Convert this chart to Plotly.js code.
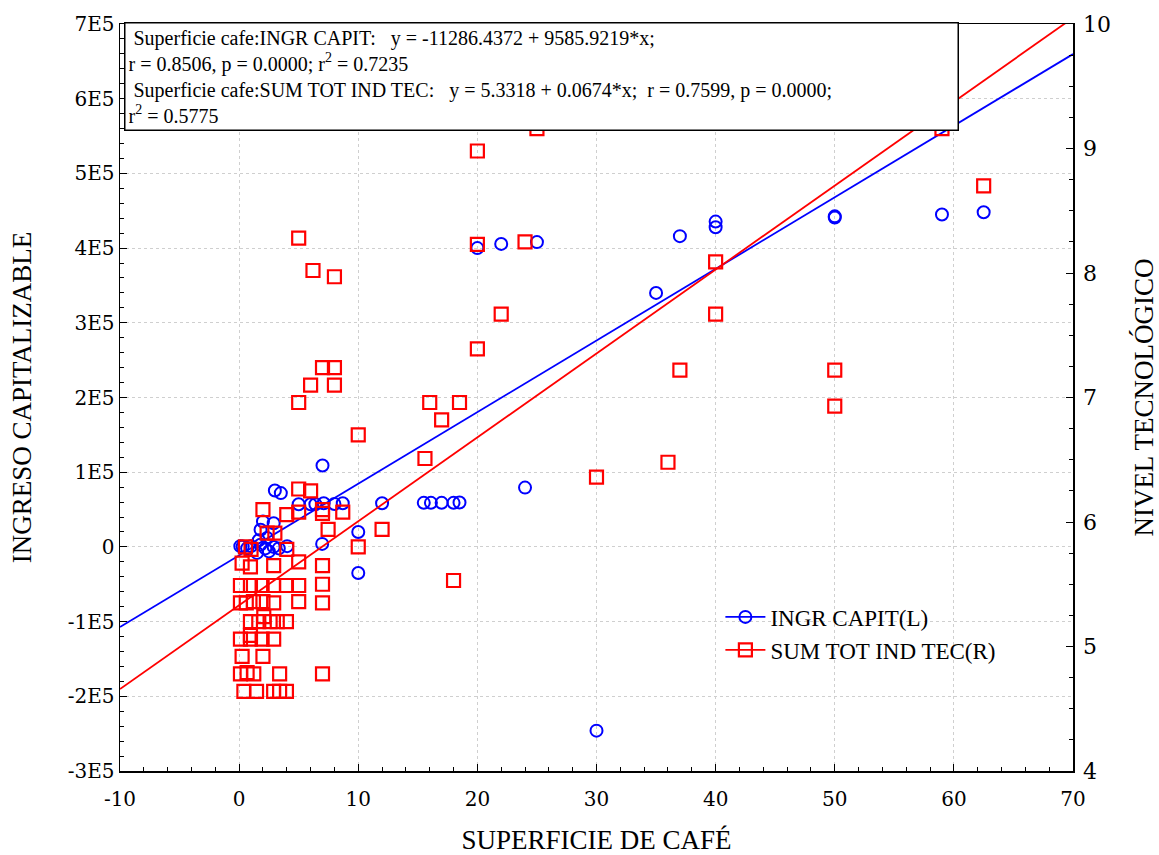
<!DOCTYPE html>
<html>
<head>
<meta charset="utf-8">
<script src="https://cdn.plot.ly/plotly-3.0.1.min.js"></script>
<style>html,body{margin:0;padding:0;background:#fff;}#chart{width:1159px;height:855px;}</style>
</head>
<body>
<div id="chart"></div>
<script>
// INGR CAPIT (left axis)
const ingrX = [7, 3.0, 3.5, 5, 6, 6.4, 7.1, 8, 8.7, 12, 15.5, 16.1, 17, 18, 18.5, 24, 20, 22, 25, 35, 37, 40, 40, 50, 50, 59, 62.5, 30, 10, 10,
  2.0, 2.9, 1.8, 2.35, 1.65, 0.1, 0.67, 1.8, 2.2, 2.5, 2.9, 3.33, 4.03, 6.97, 1.5, 1.0, 0.3];
const ingrY = [109000, 75500, 72000, 57000, 57000, 57000, 58500, 57500, 58500, 58500, 59000, 59000, 59000, 59000, 59500, 79400, 400000, 405600, 408000, 340000, 416000, 435500, 428000, 441000, 442500, 445000, 448000, -246000, 20000, -35000,
  34000, 31700, 23000, 12000, 9000, 1000, -2000, 3000, -2000, -6000, 0, -2000, 1000, 4000, -8000, 1000, 500];

// SUM TOT IND TEC (right axis)
const tecX = [5, 6.2, 8, 7, 8, 6, 8, 5, 20, 20, 22, 20, 24, 25, 40, 40, 37, 50, 50, 62.5, 36, 30, 18, 15.6, 16, 18.5, 17, 10, 12, 10, 59,
  5, 6, 2.0, 4.0, 5.0, 7, 7, 8.7, 2.35, 3.0, 7.47, 0.53, 1.0, 4.0, 0.25, 0.95, 2.9, 5.0, 7.0,
  0.11, 0.95, 1.93, 2.9, 3.97, 5.0, 7.0,
  0.11, 0.6, 1.2, 2.0, 2.9, 5.0, 7.0,
  0.95, 1.65, 2.07, 2.6, 3.2, 3.97,
  0.11, 0.95, 0.95, 1.93, 2.9,
  0.25, 2.0,
  0.11, 0.67, 1.23, 3.4, 7.0,
  0.4, 1.46, 2.9, 3.4, 3.97];
const tecY = [8.28, 8.02, 7.97, 7.24, 7.24, 7.10, 7.10, 6.96, 8.98, 8.23, 7.67, 7.39, 8.25, 9.16, 8.09, 7.67, 7.22, 7.22, 6.93, 8.70, 6.48, 6.36, 5.53, 6.51, 6.96, 6.96, 6.82, 6.70, 5.94, 5.80, 9.16,
  6.265, 6.25, 6.10, 6.06, 6.08, 6.10, 6.07, 6.08, 5.91, 5.91, 5.94, 5.80, 5.78, 5.78, 5.67, 5.64, 5.65, 5.68, 5.65,
  5.49, 5.49, 5.49, 5.49, 5.49, 5.49, 5.50,
  5.35, 5.35, 5.36, 5.36, 5.35, 5.36, 5.35,
  5.20, 5.20, 5.24, 5.20, 5.20, 5.20,
  5.06, 5.06, 5.09, 5.06, 5.06,
  4.92, 4.92,
  4.78, 4.79, 4.78, 4.78, 4.78,
  4.64, 4.64, 4.64, 4.64, 4.64];

// Regression coefficients (from the chart's annotation)
const ingrIntercept = -11286.4372, ingrSlope = 9585.9219;
const tecIntercept = 5.3318, tecSlope = 0.0674;
const fitX = [-10, 70];

const leftTickVals = [-300000, -200000, -100000, 0, 100000, 200000, 300000, 400000, 500000, 600000, 700000];
const leftTickText = ['-3E5', '-2E5', '-1E5', '0', '1E5', '2E5', '3E5', '4E5', '5E5', '6E5', '7E5'];
const xTickVals = [-10, 0, 10, 20, 30, 40, 50, 60, 70];
const xTickText = ['-10', '0', '10', '20', '30', '40', '50', '60', '70'];

const BLUE = '#0000ff', RED = '#ff0000';
const serif = 'Liberation Serif, Times New Roman, serif';
const tickFont = {family: 'DejaVu Serif, serif', size: 20, color: '#000'};
const titleFont = {family: serif, size: 27, color: '#000'};

const traces = [
  {x: ingrX, y: ingrY, type: 'scatter', mode: 'markers', yaxis: 'y', showlegend: false,
   marker: {symbol: 'circle-open', size: 12, color: BLUE, line: {width: 2, color: BLUE}}},
  {x: fitX, y: fitX.map(v => ingrIntercept + ingrSlope * v), type: 'scatter', mode: 'lines', yaxis: 'y', showlegend: false,
   line: {color: BLUE, width: 1.8}},
  {x: tecX, y: tecY, type: 'scatter', mode: 'markers', yaxis: 'y2', showlegend: false,
   marker: {symbol: 'square-open', size: 13, color: RED, line: {width: 2.2, color: RED}}},
  {x: fitX, y: fitX.map(v => tecIntercept + tecSlope * v), type: 'scatter', mode: 'lines', yaxis: 'y2', showlegend: false,
   line: {color: RED, width: 1.8}},
  {x: [null], y: [null], type: 'scatter', mode: 'lines+markers', name: 'INGR CAPIT(L)', yaxis: 'y',
   line: {color: BLUE, width: 1.8}, marker: {symbol: 'circle-open', size: 12, color: BLUE, line: {width: 2, color: BLUE}}},
  {x: [null], y: [null], type: 'scatter', mode: 'lines+markers', name: 'SUM TOT IND TEC(R)', yaxis: 'y2',
   line: {color: RED, width: 1.8}, marker: {symbol: 'square-open', size: 13, color: RED, line: {width: 2.2, color: RED}}}
];

const annText = '\u00A0Superficie cafe:INGR CAPIT:\u00A0\u00A0\u00A0y = -11286.4372 + 9585.9219*x;<br>' +
  'r = 0.8506, p = 0.0000; r<sup>2</sup> = 0.7235<br>' +
  '\u00A0Superficie cafe:SUM TOT IND TEC:\u00A0\u00A0\u00A0y = 5.3318 + 0.0674*x;\u00A0\u00A0r = 0.7599, p = 0.0000;<br>' +
  'r<sup>2</sup> = 0.5775';

const layout = {
  width: 1159, height: 855,
  margin: {l: 120, r: 86, t: 24, b: 84},
  paper_bgcolor: '#fff', plot_bgcolor: '#fff',
  showlegend: true,
  legend: {x: 0.63, y: 0.235, xanchor: 'left', yanchor: 'top', bgcolor: 'rgba(0,0,0,0)',
           font: {family: serif, size: 23, color: '#000'}, tracegroupgap: 0, itemwidth: 40},
  xaxis: {
    range: [-10, 70], tickmode: 'array', tickvals: xTickVals, ticktext: xTickText,
    ticks: 'inside', ticklen: 7, tickcolor: '#000', tickwidth: 1, ticklabelstandoff: 9,
    showline: true, linecolor: '#000', linewidth: 1.5, mirror: true,
    showgrid: true, gridcolor: '#cfcfcf', griddash: 'dot', gridwidth: 1, zeroline: false,
    minor: {dtick: 2, ticks: 'inside', ticklen: 4, tickcolor: '#000', showgrid: false},
    tickfont: tickFont, automargin: false,
    title: {text: 'SUPERFICIE DE CAFÉ', font: titleFont, standoff: 22}
  },
  yaxis: {
    range: [-300000, 700000], tickmode: 'array', tickvals: leftTickVals, ticktext: leftTickText,
    ticks: 'inside', ticklen: 7, tickcolor: '#000',
    showline: true, linecolor: '#000', linewidth: 1.5,
    showgrid: true, gridcolor: '#cfcfcf', griddash: 'dot', gridwidth: 1, zeroline: false,
    minor: {dtick: 20000, ticks: 'inside', ticklen: 4, tickcolor: '#000', showgrid: false},
    tickfont: tickFont, automargin: false,
    title: {text: 'INGRESO CAPITALIZABLE', font: titleFont, standoff: 28}
  },
  yaxis2: {
    range: [4, 10], overlaying: 'y', side: 'right', dtick: 1, tick0: 4,
    ticks: 'inside', ticklen: 7, tickcolor: '#000', ticklabelstandoff: 4,
    showline: true, linecolor: '#000', linewidth: 1.5,
    showgrid: false, zeroline: false,
    minor: {dtick: 0.25, ticks: 'inside', ticklen: 4, tickcolor: '#000', showgrid: false},
    tickfont: {family: 'DejaVu Serif, serif', size: 22, color: '#000'}, automargin: false,
    title: {text: 'NIVEL TECNOLÓGICO', font: titleFont, standoff: 28}
  },
  annotations: [{
    xref: 'paper', yref: 'paper', x: 0.004, y: 1.003, xanchor: 'left', yanchor: 'top',
    text: annText, showarrow: false, align: 'left', width: 826,
    font: {family: serif, size: 20, color: '#000'},
    bgcolor: '#fff', bordercolor: '#000', borderwidth: 1.5, borderpad: 3
  }]
};

Plotly.newPlot('chart', traces, layout, {displayModeBar: false, staticPlot: true});
</script>
</body>
</html>
